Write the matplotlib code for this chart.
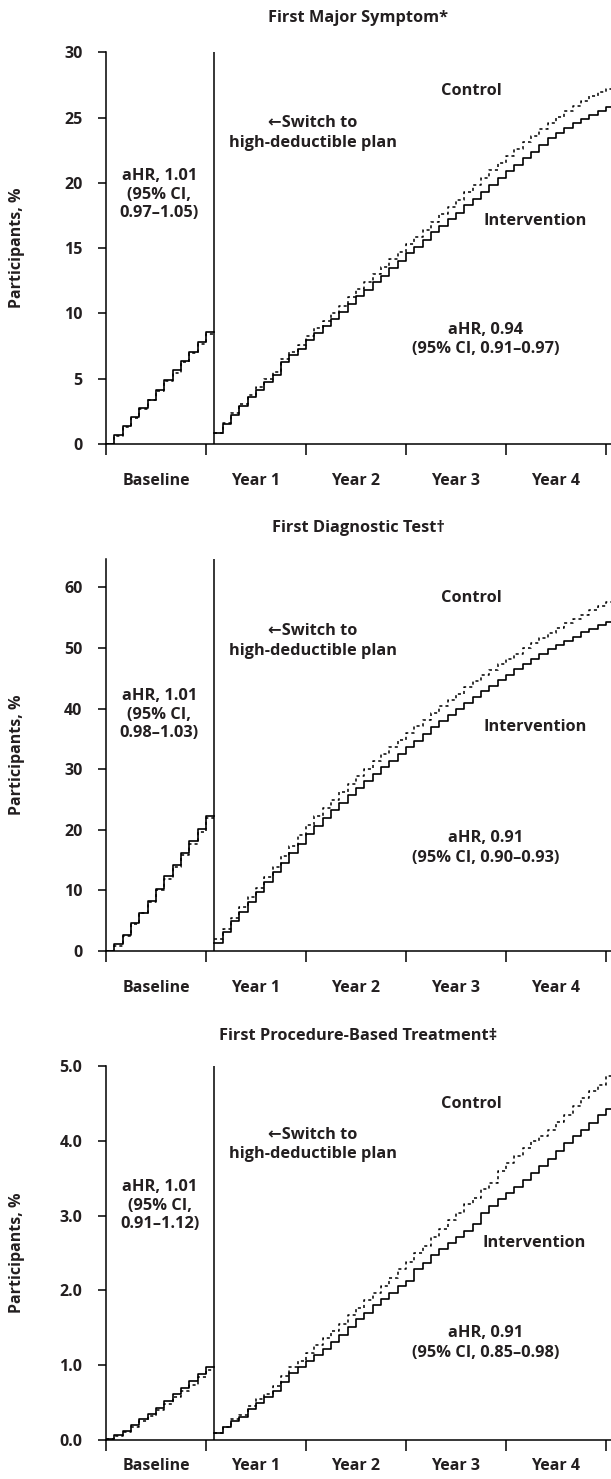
import matplotlib
matplotlib.use("Agg")
import matplotlib.pyplot as plt

plt.rcParams["font.family"] = ["Open Sans", "DejaVu Sans"]
plt.rcParams["font.weight"] = "bold"
plt.rcParams["axes.labelweight"] = "bold"

TXT = "#231f20"

# months: baseline 0..12 (held to 13), follow-up 13..60 (held to 61)
base_months = list(range(0, 13))
follow_months = list(range(13, 61))
switch_month = 13

# ---- First Major Symptom ----
sym_base_int = [0.0, 0.7, 1.35, 2.05, 2.75, 3.4, 4.1, 4.9, 5.65, 6.35, 7.05, 7.8, 8.55]
sym_base_ctl = [0.0, 0.65, 1.3, 2.0, 2.65, 3.35, 4.05, 4.8, 5.4, 6.25, 7.0, 7.65, 8.45]
sym_fu_int = [0.86, 1.57, 2.21, 2.90, 3.62, 4.13, 4.76, 5.27, 6.29, 6.80, 7.31, 7.95,
              8.51, 9.0, 9.6, 10.1, 10.7, 11.3, 11.8, 12.4, 12.9, 13.5, 14.0, 14.6,
              15.1, 15.6, 16.2, 16.7, 17.2, 17.7, 18.3, 18.8, 19.3, 19.8, 20.4, 20.9,
              21.4, 21.9, 22.4, 22.9, 23.4, 23.8, 24.2, 24.6, 24.9, 25.2, 25.5, 25.8]
sym_fu_ctl = [0.86, 1.62, 2.35, 3.05, 3.75, 4.35, 4.95, 5.55, 6.50, 7.05, 7.60, 8.30,
              8.90, 9.45, 10.05, 10.60, 11.25, 11.85, 12.40, 13.00, 13.55, 14.15, 14.70, 15.30,
              15.85, 16.40, 17.00, 17.60, 18.15, 18.70, 19.30, 19.85, 20.40, 20.95, 21.50, 22.05,
              22.60, 23.10, 23.60, 24.10, 24.60, 25.05, 25.50, 25.90, 26.30, 26.65, 26.95, 27.20]

# ---- First Diagnostic Test ----
dx_base_int = [0.0, 1.1, 2.7, 4.6, 6.3, 8.3, 10.3, 12.3, 14.2, 16.1, 18.1, 20.1, 22.2]
dx_base_ctl = [0.0, 0.9, 2.5, 4.4, 6.2, 8.1, 10.0, 11.9, 13.8, 15.8, 17.7, 19.6, 22.0]
dx_fu_int = [1.4, 3.2, 4.9, 6.5, 8.1, 9.8, 11.4, 13.0, 14.6, 16.2, 17.7, 19.3,
             20.6, 21.9, 23.2, 24.5, 25.7, 26.9, 28.1, 29.2, 30.3, 31.4, 32.5, 33.6,
             34.7, 35.8, 36.9, 37.9, 38.9, 39.9, 40.9, 41.9, 42.9, 43.8, 44.7, 45.6,
             46.5, 47.4, 48.2, 49.0, 49.8, 50.5, 51.2, 51.9, 52.6, 53.2, 53.8, 54.3]
dx_fu_ctl = [1.9, 3.7, 5.5, 7.2, 8.9, 10.4, 12.2, 13.9, 15.7, 17.4, 19.1, 20.8,
             22.2, 23.6, 25.0, 26.3, 27.6, 28.9, 30.1, 31.3, 32.5, 33.7, 34.9, 36.0,
             37.1, 38.2, 39.3, 40.4, 41.5, 42.5, 43.5, 44.5, 45.5, 46.4, 47.3, 48.2,
             49.1, 50.0, 50.9, 51.7, 52.5, 53.3, 54.1, 54.8, 55.5, 56.2, 56.9, 57.6]

# ---- First Procedure-Based Treatment ----
tx_base_int = [0.01, 0.07, 0.12, 0.20, 0.28, 0.35, 0.43, 0.52, 0.61, 0.70, 0.79, 0.88, 0.98]
tx_base_ctl = [0.01, 0.06, 0.11, 0.18, 0.25, 0.32, 0.40, 0.48, 0.57, 0.66, 0.74, 0.84, 0.94]
tx_fu_int = [0.10, 0.17, 0.26, 0.31, 0.41, 0.50, 0.57, 0.66, 0.78, 0.89, 0.97, 1.06,
             1.14, 1.22, 1.31, 1.40, 1.51, 1.62, 1.70, 1.81, 1.88, 1.97, 2.06, 2.13,
             2.28, 2.37, 2.47, 2.56, 2.64, 2.72, 2.80, 2.89, 3.03, 3.13, 3.22, 3.30,
             3.38, 3.47, 3.57, 3.66, 3.76, 3.87, 3.97, 4.07, 4.15, 4.24, 4.35, 4.43]
tx_fu_ctl = [0.10, 0.18, 0.28, 0.34, 0.46, 0.55, 0.62, 0.72, 0.86, 0.97, 1.06, 1.16,
             1.27, 1.37, 1.46, 1.55, 1.67, 1.77, 1.87, 1.97, 2.06, 2.17, 2.28, 2.38,
             2.50, 2.60, 2.71, 2.82, 2.94, 3.04, 3.15, 3.24, 3.35, 3.44, 3.59, 3.70,
             3.80, 3.91, 4.00, 4.07, 4.15, 4.25, 4.34, 4.47, 4.57, 4.66, 4.75, 4.86]

period_labels = ["Baseline", "Year 1", "Year 2", "Year 3", "Year 4"]

panels = [
    dict(title="First Major Symptom*", base=(sym_base_int, sym_base_ctl), fu=(sym_fu_int, sym_fu_ctl),
         ylim=30.0, yticks=[0, 5, 10, 15, 20, 25, 30], fmt="int",
         base_hr="aHR, 1.01\n(95% CI,\n0.97\u20131.05)", fu_hr="aHR, 0.94\n(95% CI, 0.91\u20130.97)",
         rect=[106, 52.3, 444], title_y=18, xpad=21,
         pos=dict(ctl=(43.9, 27.0), sw=(24.8, 23.8), bhr=(6.4, 19.1), itv=(51.5, 17.1), fhr=(45.6, 8.0))),
    dict(title="First Diagnostic Test\u2020", base=(dx_base_int, dx_base_ctl), fu=(dx_fu_int, dx_fu_ctl),
         ylim=64.7, yticks=[0, 10, 20, 30, 40, 50, 60], fmt="int",
         base_hr="aHR, 1.01\n(95% CI,\n0.98\u20131.03)", fu_hr="aHR, 0.91\n(95% CI, 0.90\u20130.93)",
         rect=[106, 559, 951], title_y=528, xpad=21,
         pos=dict(ctl=(43.9, 58.2), sw=(24.8, 51.2), bhr=(6.4, 39.0), itv=(51.5, 37.0), fhr=(45.6, 17.0))),
    dict(title="First Procedure-Based Treatment\u2021", base=(tx_base_int, tx_base_ctl), fu=(tx_fu_int, tx_fu_ctl),
         ylim=5.0, yticks=[0, 1, 2, 3, 4, 5], fmt="{:.1f}",
         base_hr="aHR, 1.01\n(95% CI,\n0.91\u20131.12)", fu_hr="aHR, 0.91\n(95% CI, 0.85\u20130.98)",
         rect=[106, 1066, 1440], title_y=1036, xpad=13,
         pos=dict(ctl=(43.8, 4.49), sw=(24.8, 3.95), bhr=(6.45, 3.13), itv=(51.4, 2.64), fhr=(45.6, 1.30))),
]

W, H = 611, 1479
fig = plt.figure(figsize=(W / 100, H / 100), dpi=100)

for p in panels:
    left, top, bottom = p["rect"]
    ax = fig.add_axes([left / W, 1 - bottom / H, (W - left) / W, (bottom - top) / H])

    bi, bc = p["base"]
    fi, fc = p["fu"]
    bx = base_months + [switch_month]
    fx = follow_months + [61]
    ax.plot(bx, bc + [bc[-1]], drawstyle="steps-post", color="black", lw=1.1, ls=(0, (2, 2)))
    ax.plot(bx, bi + [bi[-1]], drawstyle="steps-post", color="black", lw=1.2)
    ax.plot(fx, fc + [fc[-1]], drawstyle="steps-post", color="black", lw=1.1, ls=(0, (2, 2)))
    ax.plot(fx, fi + [fi[-1]], drawstyle="steps-post", color="black", lw=1.2)
    ax.axvline(switch_month, color="black", lw=1.1)

    ax.set_xlim(0, 60.6)
    ax.set_ylim(0, p["ylim"])
    for s in ["top", "right"]:
        ax.spines[s].set_visible(False)
    for s in ["left", "bottom"]:
        ax.spines[s].set_linewidth(1.1)

    ax.set_yticks(p["yticks"])
    if p["fmt"] == "int":
        ax.set_yticklabels([str(int(t)) for t in p["yticks"]])
    else:
        ax.set_yticklabels([p["fmt"].format(t) for t in p["yticks"]])
    ax.tick_params(axis="y", length=6, width=1.1, pad=11, labelsize=11.5, labelcolor=TXT)

    ax.set_xticks([0, 12, 24, 36, 48, 60])
    ax.set_xticklabels([])
    ax.set_xticks([6, 18, 30, 42, 54], minor=True)
    ax.set_xticklabels(period_labels, minor=True)
    ax.tick_params(axis="x", which="major", length=8, width=1.1)
    ax.tick_params(axis="x", which="minor", length=0, pad=p["xpad"], labelsize=11.5, labelcolor=TXT)

    ax.set_ylabel("Participants, %", fontsize=11.5, color=TXT)
    ax.yaxis.set_label_coords(-(left - 25) / (W - left), 0.5)

    pos = p["pos"]
    kw = dict(ha="center", va="center", fontsize=11.8, color=TXT)
    ax.text(*pos["ctl"], "Control", **kw)
    ax.text(*pos["sw"], "\u2190Switch to\nhigh-deductible plan", linespacing=1.3, **kw)
    ax.text(*pos["bhr"], p["base_hr"], linespacing=1.2, **kw)
    ax.text(*pos["itv"], "Intervention", **kw)
    ax.text(*pos["fhr"], p["fu_hr"], linespacing=1.3, **kw)

    fig.text((left + W) / 2 / W, 1 - p["title_y"] / H, p["title"], ha="center", va="center",
             fontsize=11.8, color=TXT)

fig.savefig("out.png", dpi=100)
